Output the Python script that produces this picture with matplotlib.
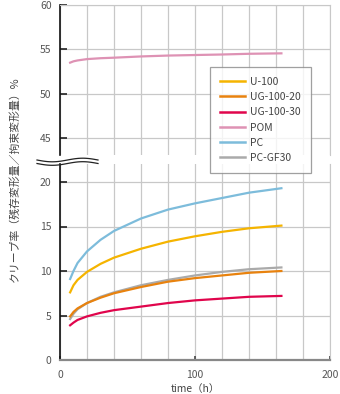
import matplotlib
matplotlib.use('Agg')
import matplotlib.pyplot as plt
from matplotlib.lines import Line2D
import numpy as np

plt.rcParams['font.family'] = ['Noto Sans CJK JP', 'DejaVu Sans']

t = [7.5, 10, 13, 20, 30, 40, 60, 80, 100, 120, 140, 164]
u100 = [7.6, 8.4, 9.0, 9.9, 10.8, 11.5, 12.5, 13.3, 13.9, 14.4, 14.8, 15.1]
ug100_20 = [4.9, 5.4, 5.8, 6.4, 7.0, 7.5, 8.2, 8.8, 9.2, 9.5, 9.8, 10.0]
ug100_30 = [3.9, 4.2, 4.5, 4.9, 5.3, 5.6, 6.0, 6.4, 6.7, 6.9, 7.1, 7.2]
pom = [53.5, 53.65, 53.75, 53.9, 54.0, 54.06, 54.2, 54.3, 54.36, 54.42, 54.5, 54.55]
pc = [9.1, 10.0, 10.9, 12.2, 13.5, 14.5, 15.9, 16.9, 17.6, 18.2, 18.8, 19.3]
pc_gf30 = [4.6, 5.2, 5.7, 6.4, 7.1, 7.6, 8.4, 9.0, 9.5, 9.9, 10.2, 10.4]

names = ['U-100', 'UG-100-20', 'UG-100-30', 'POM', 'PC', 'PC-GF30']
colors = ['#f5b400', '#e8820e', '#e0054c', '#de92b4', '#7dbcdb', '#aaaaaa']

W, H = 340, 394
fig = plt.figure(figsize=(3.4, 3.94), dpi=100)
left = 60 / W
width = 270 / W
ax_top = fig.add_axes([left, 1 - 155 / H, width, 150 / H])
ax_bot = fig.add_axes([left, 1 - 360 / H, width, 196 / H])

grid_c = '#c8c8c8'
tick_c = '#555555'
for ax in (ax_top, ax_bot):
    ax.set_xlim(0, 200)
    ax.set_xticks(np.arange(0, 201, 20), minor=True)
    ax.set_xticks([0, 100, 200])
    ax.grid(True, which='both', axis='x', color=grid_c, lw=0.9)
    ax.grid(True, which='major', axis='y', color=grid_c, lw=0.9)
    ax.tick_params(axis='x', which='minor', length=0)
    ax.tick_params(axis='y', direction='in', length=5, width=1.2, color='#222222',
                   labelsize=7.5, labelcolor=tick_c, pad=6)
    ax.tick_params(axis='x', direction='in', length=3, width=1.2, color='#444444',
                   labelsize=7.5, labelcolor=tick_c, pad=7)
    ax.spines['left'].set_color('#111111')
    ax.spines['left'].set_linewidth(1.2)
    ax.spines['right'].set_color(grid_c)
    ax.spines['top'].set_color(grid_c)
    ax.spines['bottom'].set_color('#888888')
    ax.spines['bottom'].set_linewidth(1.6)
    ax.set_axisbelow(True)

ax_top.set_ylim(60 - 150 / 8.87, 60)
ax_top.set_yticks([45, 50, 55, 60])
ax_top.spines['bottom'].set_visible(False)
ax_top.tick_params(axis='x', which='both', bottom=False, labelbottom=False)

ax_bot.set_ylim(0, 196 / 8.9)
ax_bot.set_yticks([0, 5, 10, 15, 20])
ax_bot.spines['top'].set_visible(False)

lw = 1.6
ax_bot.plot(t, pc_gf30, color=colors[5], lw=lw)
ax_bot.plot(t, ug100_20, color=colors[1], lw=lw)
ax_bot.plot(t, ug100_30, color=colors[2], lw=lw)
ax_bot.plot(t, u100, color=colors[0], lw=lw)
ax_bot.plot(t, pc, color=colors[4], lw=lw)
ax_top.plot(t, pom, color=colors[3], lw=lw)

# break marks
xs = np.linspace(37, 98, 60)
for off in (0, 3.5):
    ys = 160 + off + 1.8 * np.sin((xs - 37) / 61 * 2 * np.pi)
    fig.add_artist(Line2D(xs / W, 1 - ys / H, color='#222222', lw=0.9))

handles = [Line2D([], [], color=c, lw=1.8) for c in colors]
leg = fig.legend(handles, names, loc='upper left',
                 bbox_to_anchor=(210 / W, 1 - 67 / H), fontsize=7.5,
                 frameon=True, fancybox=False, handlelength=2.4,
                 handletextpad=0.5, labelspacing=0.5, borderpad=0.95,
                 borderaxespad=0)
leg.get_frame().set_edgecolor('#888888')
leg.get_frame().set_linewidth(0.9)
for txt in leg.get_texts():
    txt.set_color('#444444')

fig.text(15 / W, 1 - 179 / H, 'クリープ率（残存変形量／拘束変形量）%', rotation=90,
         ha='center', va='center', fontsize=7.8, color='#444444')
fig.text(195 / W, 1 - 389 / H, 'time（h）', ha='center', va='center',
         fontsize=7.5, color='#444444')

fig.savefig('out.png', dpi=100)
